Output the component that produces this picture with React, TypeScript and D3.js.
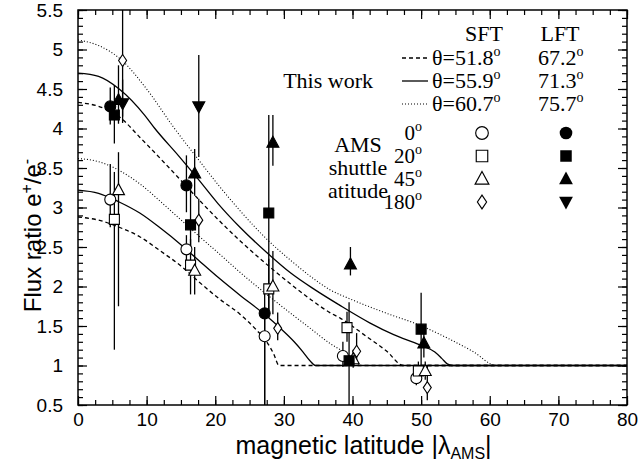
import React, { useRef, useEffect } from 'react';
import * as d3 from 'd3';

type XY = [number, number];
type Pt = [number, number, number, number]; // latitude, ratio, error low, error high

// model curves (This work), SFT = lower group, LFT = upper group
const sftDashed: XY[] = [[0, 2.88], [3, 2.84], [6, 2.75], [9, 2.63], [12, 2.45], [15, 2.26], [17.6, 2.06], [20.5, 1.85], [23.6, 1.65], [26, 1.45], [27.5, 1.3], [28.5, 1.15], [29.3, 1.0], [80, 1.0]];
const sftSolid: XY[] = [[0, 3.22], [3, 3.18], [6, 3.07], [9, 2.93], [12, 2.74], [15, 2.53], [17.6, 2.33], [20.5, 2.11], [23.6, 1.89], [27, 1.66], [29.5, 1.47], [31.5, 1.3], [32.8, 1.17], [33.8, 1.06], [34.6, 1.0], [80, 1.0]];
const sftDotted: XY[] = [[0, 3.62], [3, 3.58], [6, 3.47], [9, 3.3], [13, 3.0], [17.6, 2.64], [20.5, 2.42], [23.6, 2.18], [27.5, 1.9], [31, 1.66], [34, 1.46], [36.7, 1.28], [38.2, 1.2], [40, 1.09], [41.3, 1.0], [80, 1.0]];
const lftDashed: XY[] = [[0, 4.33], [3, 4.28], [6, 4.15], [9, 3.89], [12, 3.62], [14.6, 3.38], [17.6, 3.1], [20.5, 2.84], [23.6, 2.58], [27.5, 2.28], [31, 2.03], [34, 1.83], [36.7, 1.67], [38.2, 1.6], [42, 1.37], [45, 1.18], [47.4, 1.0], [80, 1.0]];
const lftSolid: XY[] = [[0, 4.7], [3, 4.66], [6, 4.5], [9.7, 4.17], [11.2, 4.0], [14.6, 3.66], [17.6, 3.35], [20.4, 3.05], [23.6, 2.75], [27.5, 2.43], [31, 2.17], [34.5, 1.96], [38, 1.77], [42.5, 1.54], [46, 1.39], [49.8, 1.26], [52, 1.17], [53, 1.09], [53.8, 1.02], [54.5, 1.0], [80, 1.0]];
const lftDotted: XY[] = [[0, 5.12], [3, 5.05], [6.3, 4.87], [10, 4.5], [13.9, 4.02], [17.6, 3.6], [20.5, 3.28], [23.6, 2.96], [27.5, 2.6], [31, 2.33], [34, 2.12], [36.7, 1.96], [40, 1.83], [45, 1.66], [49.8, 1.51], [54, 1.34], [57.5, 1.18], [61, 1.0], [80, 1.0]];

// AMS data, SFT (open) and LFT (filled) per shuttle attitude
const sft0: Pt[] = [[4.7, 3.1, 2.75, 3.55], [15.8, 2.47, 2.22, 2.65], [27.2, 1.37, 0.5, 1.6], [38.6, 1.12, 0.98, 1.3], [49.3, 0.84, 0.75, 0.95]];
const sft20: Pt[] = [[5.3, 2.85, 1.2, 3.45], [16.4, 2.27, 1.9, 2.6], [27.8, 1.97, 1.6, 2.35], [39.2, 1.48, 1.3, 1.68], [49.6, 0.93, 0.82, 1.05]];
const sft45: Pt[] = [[5.9, 3.22, 1.75, 3.7], [17.0, 2.2, 1.9, 2.5], [28.4, 2.0, 1.65, 2.45], [40.1, 1.08, 0.97, 1.2], [50.6, 0.93, 0.82, 1.05]];
const sft180: Pt[] = [[6.5, 4.86, 4.15, 5.6], [17.6, 2.84, 2.56, 3.11], [29.1, 1.47, 1.32, 1.67], [40.6, 1.18, 1.03, 1.41], [50.9, 0.72, 0.56, 1.0]];
const lft0: Pt[] = [[4.7, 4.28, 4.05, 4.52], [15.8, 3.28, 2.94, 3.66], [27.2, 1.66, 0.5, 1.95]];
const lft20: Pt[] = [[5.3, 4.17, 3.81, 4.55], [16.4, 2.78, 2.5, 3.24], [27.8, 2.93, 1.7, 4.17], [39.5, 1.06, 0.5, 1.8], [50.0, 1.46, 0.82, 1.92]];
const lft45: Pt[] = [[5.9, 4.36, 4.06, 4.8], [17.0, 3.43, 3.15, 3.74], [28.4, 3.82, 3.53, 4.17], [39.7, 2.28, 2.14, 2.5], [50.4, 1.28, 1.1, 1.42]];
const lft180: Pt[] = [[6.5, 4.32, 4.07, 4.62], [17.6, 4.28, 3.64, 4.93]];

const xTicks = [0, 10, 20, 30, 40, 50, 60, 70, 80];
const yTicks = [0.5, 1, 1.5, 2, 2.5, 3, 3.5, 4, 4.5, 5, 5.5];
const yTickLabels = ['0.5', '1', '1.5', '2', '2.5', '3', '3.5', '4', '4.5', '5', '5.5'];
const thetaSFT = ['51.8', '55.9', '60.7'];
const thetaLFT = ['67.2', '71.3', '75.7'];
const attitudes = ['0', '20', '45', '180'];

const W = 644;
const H = 462;
const margin = { top: 10, right: 17, bottom: 57, left: 78 };

const sans = '"Liberation Sans", Arial, Helvetica, sans-serif';
const serif = '"Liberation Serif", "Times New Roman", serif';

// marker shapes, centred on 0,0
const shapes: Record<string, string> = {
  circle: 'M5.5,0A5.5,5.5 0 1,1 -5.5,0A5.5,5.5 0 1,1 5.5,0Z',
  square: 'M-5,-5H5V5H-5Z',
  up: 'M0,-6.5L6,4.5H-6Z',
  down: 'M0,6.5L6,-4.5H-6Z',
  diamond: 'M0,-6L4,0L0,6L-4,0Z',
};

const App = () => {
  const svgRef = useRef<SVGSVGElement>(null);

  useEffect(() => {
    if (!svgRef.current) return;
    const root = d3.select(svgRef.current);
    root.selectAll('*').remove();

    const iw = W - margin.left - margin.right;
    const ih = H - margin.top - margin.bottom;

    const x = d3.scaleLinear().domain([0, 80]).range([0, iw]);
    const y = d3.scaleLinear().domain([0.5, 5.5]).range([ih, 0]);

    root.append('defs').append('clipPath').attr('id', 'plot')
      .append('rect').attr('width', iw).attr('height', ih);

    const svg = root.append('g').attr('transform', `translate(${margin.left},${margin.top})`);

    // axes, ticks point inward on all sides
    const minorX = d3.range(0, 80.01, 2.5);
    const minorY = d3.range(0.5, 5.501, 0.1);
    const styleAxis = (g: d3.Selection<SVGGElement, unknown, null, undefined>) => {
      g.select('.domain').remove();
      g.selectAll('line').attr('stroke', '#000').attr('stroke-width', 1.2);
      g.selectAll('text').attr('fill', '#000').style('font-family', sans).style('font-size', '19px');
    };

    svg.append('g').attr('transform', `translate(0,${ih})`)
      .call(d3.axisBottom(x).tickValues(minorX).tickSize(-5).tickFormat(() => ''))
      .call(styleAxis);
    svg.append('g').attr('transform', `translate(0,${ih})`)
      .call(d3.axisBottom(x).tickValues(xTicks).tickSize(-9).tickPadding(8).tickFormat(d3.format('d')))
      .call(styleAxis);
    svg.append('g')
      .call(d3.axisTop(x).tickValues(minorX).tickSize(-5).tickFormat(() => ''))
      .call(styleAxis);
    svg.append('g')
      .call(d3.axisTop(x).tickValues(xTicks).tickSize(-9).tickFormat(() => ''))
      .call(styleAxis);
    svg.append('g')
      .call(d3.axisLeft(y).tickValues(minorY).tickSize(-5).tickFormat(() => ''))
      .call(styleAxis);
    svg.append('g')
      .call(d3.axisLeft(y).tickValues(yTicks).tickSize(-9).tickPadding(15)
        .tickFormat((d, i) => yTickLabels[i]))
      .call(styleAxis);
    svg.append('g').attr('transform', `translate(${iw},0)`)
      .call(d3.axisRight(y).tickValues(minorY).tickSize(-5).tickFormat(() => ''))
      .call(styleAxis);
    svg.append('g').attr('transform', `translate(${iw},0)`)
      .call(d3.axisRight(y).tickValues(yTicks).tickSize(-9).tickFormat(() => ''))
      .call(styleAxis);

    // frame
    svg.append('rect').attr('width', iw).attr('height', ih)
      .attr('fill', 'none').attr('stroke', '#000').attr('stroke-width', 1.5);

    // axis titles
    const xl = svg.append('text')
      .attr('x', iw / 2 + 11).attr('y', ih + 49)
      .attr('text-anchor', 'middle')
      .style('font-family', sans).style('font-size', '25px');
    xl.append('tspan').text('magnetic latitude |λ');
    xl.append('tspan').attr('dy', 5).style('font-size', '16px').text('AMS');
    xl.append('tspan').attr('dy', -5).text('|');

    const yl = svg.append('text')
      .attr('transform', 'rotate(-90)')
      .attr('x', -ih / 2 - 28).attr('y', -37)
      .attr('text-anchor', 'middle')
      .style('font-family', sans).style('font-size', '24px');
    yl.append('tspan').text('Flux ratio e');
    yl.append('tspan').attr('dy', -9).style('font-size', '16px').text('+');
    yl.append('tspan').attr('dy', 9).text('/e');
    yl.append('tspan').attr('dy', -9).style('font-size', '16px').text('-');

    // model curves
    const line = d3.line<XY>()
      .x(d => x(d[0]))
      .y(d => y(d[1]))
      .curve(d3.curveMonotoneX);

    const curves: [XY[], string | null][] = [
      [sftDashed, '4,3'], [sftSolid, null], [sftDotted, '1,2'],
      [lftDashed, '4,3'], [lftSolid, null], [lftDotted, '1,2'],
    ];
    const cg = svg.append('g').attr('clip-path', 'url(#plot)');
    curves.forEach(([data, dash]) => {
      cg.append('path')
        .datum(data)
        .attr('fill', 'none')
        .attr('stroke', '#000')
        .attr('stroke-width', dash === '1,2' ? 1.1 : 1.3)
        .attr('stroke-dasharray', dash)
        .attr('d', line);
    });

    // data points with error bars
    const series: [Pt[], string, boolean][] = [
      [sft0, 'circle', false], [sft20, 'square', false], [sft45, 'up', false], [sft180, 'diamond', false],
      [lft0, 'circle', true], [lft20, 'square', true], [lft45, 'up', true], [lft180, 'down', true],
    ];
    const eg = svg.append('g').attr('clip-path', 'url(#plot)');
    series.forEach(([pts]) => {
      eg.selectAll(null)
        .data(pts)
        .enter()
        .append('line')
        .attr('x1', d => x(d[0])).attr('x2', d => x(d[0]))
        .attr('y1', d => y(d[2])).attr('y2', d => y(d[3]))
        .attr('stroke', '#000').attr('stroke-width', 1.3);
    });
    series.forEach(([pts, shape, filled]) => {
      svg.selectAll(null)
        .data(pts)
        .enter()
        .append('path')
        .attr('transform', d => `translate(${x(d[0])},${y(d[1])})`)
        .attr('d', shapes[shape])
        .attr('fill', filled ? '#000' : '#fff')
        .attr('stroke', '#000')
        .attr('stroke-width', 1.1);
    });

    // legend
    const lg = svg.append('g').style('font-family', serif).style('font-size', '22px');
    const ox = margin.left;
    const oy = margin.top;
    const deg = (t: d3.Selection<SVGTextElement, unknown, null, undefined>) =>
      t.append('tspan').attr('dy', -9).style('font-size', '14px').text('o');

    lg.append('text').attr('x', 484 - ox).attr('y', 41 - oy).attr('text-anchor', 'middle').text('SFT');
    lg.append('text').attr('x', 560 - ox).attr('y', 41 - oy).attr('text-anchor', 'middle').text('LFT');
    lg.append('text').attr('x', 373 - ox).attr('y', 88 - oy).attr('text-anchor', 'end').text('This work');

    const dashes = ['4,3', null, '1,2'];
    thetaSFT.forEach((t, i) => {
      const by = 65 + i * 23 - oy;
      lg.append('line')
        .attr('x1', 402 - ox).attr('x2', 428 - ox)
        .attr('y1', by - 7).attr('y2', by - 7)
        .attr('stroke', '#000').attr('stroke-width', dashes[i] === '1,2' ? 1.1 : 1.3)
        .attr('stroke-dasharray', dashes[i]);
      const a = lg.append('text').attr('x', 432 - ox).attr('y', by);
      a.append('tspan').text(`θ=${t}`);
      deg(a);
      const b = lg.append('text').attr('x', 538 - ox).attr('y', by);
      b.append('tspan').text(thetaLFT[i]);
      deg(b);
    });

    const openShapes = ['circle', 'square', 'up', 'diamond'];
    const fillShapes = ['circle', 'square', 'up', 'down'];
    attitudes.forEach((a, i) => {
      const by = 140 + i * 23 - oy;
      const t = lg.append('text').attr('x', 422 - ox).attr('y', by)
        .attr('text-anchor', 'end').style('font-size', '21px');
      t.append('tspan').text(a);
      deg(t);
      lg.append('path')
        .attr('transform', `translate(${482 - ox},${by - 7}) scale(1.15)`)
        .attr('d', shapes[openShapes[i]])
        .attr('fill', '#fff').attr('stroke', '#000').attr('stroke-width', 1);
      lg.append('path')
        .attr('transform', `translate(${566 - ox},${by - 7}) scale(1.15)`)
        .attr('d', shapes[fillShapes[i]])
        .attr('fill', '#000');
    });
    ['AMS', 'shuttle', 'atitude'].forEach((s, i) => {
      lg.append('text').attr('x', 358 - ox).attr('y', 152 + i * 23 - oy)
        .attr('text-anchor', 'middle').text(s);
    });
  }, []);

  return (
    <div style={{ position: 'absolute', left: 0, top: 0, background: '#fff' }}>
      <svg ref={svgRef} width={W} height={H} style={{ display: 'block' }}></svg>
    </div>
  );
};

export default App;
